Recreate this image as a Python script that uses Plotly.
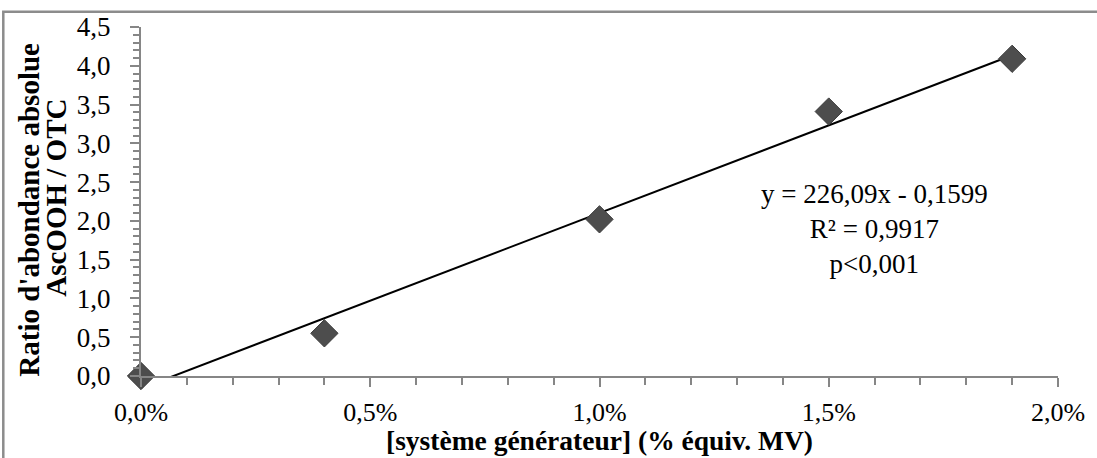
import plotly.graph_objects as go

# Data
conc = [0.0, 0.004, 0.010, 0.015, 0.019]          # fraction (shown as %)
ratio = [0.0, 0.55, 2.02, 3.41, 4.09]
slope = 226.09
intercept = -0.1599
fit_x = [0.0, 0.019]
fit_y = [slope * v + intercept for v in fit_x]
x_ticks = [0.0, 0.005, 0.010, 0.015, 0.020]
y_ticks = [0.0, 0.5, 1.0, 1.5, 2.0, 2.5, 3.0, 3.5, 4.0, 4.5]
eq_text = "y = 226,09x - 0,1599<br>R² = 0,9917<br>p<0,001"
y_title_1 = "<b>Ratio d'abondance absolue</b>"
y_title_2 = "<b>AscOOH / OTC</b>"
x_title = "<b>[système générateur] (% équiv. MV)</b>"

FONT = "Liberation Serif"
AX = "#868686"
L, R, T, B = 141, 37, 22, 82
W, H = 1097, 458
PW, PH = W - L - R, H - T - B

fig = go.Figure()
fig.add_trace(go.Scatter(
    x=fit_x, y=fit_y, mode="lines",
    line=dict(color="black", width=2), showlegend=False, hoverinfo="skip"))
fig.add_trace(go.Scatter(
    x=conc, y=ratio, mode="markers",
    marker=dict(symbol="diamond", size=21, color="#4d4d4d",
                line=dict(color="#3a3a3a", width=1)),
    cliponaxis=False, showlegend=False))

fig.add_annotation(
    x=0.016, y=1.9, xref="x", yref="y", text=eq_text, showarrow=False,
    align="center", font=dict(family=FONT, size=27, color="black"))

# y-axis title (two lines)
fig.add_annotation(x=(29 - L) / PW, y=(H - B - 207) / PH, xref="paper", yref="paper",
                   text=y_title_1, showarrow=False, textangle=-90,
                   xanchor="center", yanchor="middle",
                   font=dict(family=FONT, size=29, color="black"))
fig.add_annotation(x=(55 - L) / PW, y=(H - B - 195) / PH, xref="paper", yref="paper",
                   text=y_title_2, showarrow=False, textangle=-90,
                   xanchor="center", yanchor="middle",
                   font=dict(family=FONT, size=29, color="black"))
# x-axis title
fig.add_annotation(x=0.5, y=-(441 - (H - B)) / PH, xref="paper", yref="paper",
                   text=x_title, showarrow=False,
                   xanchor="center", yanchor="middle",
                   font=dict(family=FONT, size=27.5, color="black"))

fig.add_shape(type="rect", xref="paper", yref="paper",
              x0=(3 - L) / PW, x1=1.2, y0=-0.5, y1=1 + (T - 6.5) / PH,
              line=dict(color="#8c8c8c", width=2.5), layer="below")

fig.update_layout(
    width=W, height=H,
    margin=dict(l=L, r=R, t=T, b=B),
    paper_bgcolor="white", plot_bgcolor="white",
    separators=", ",
    font=dict(family=FONT, size=24, color="black"),
    xaxis=dict(
        range=[0, 0.02], tickvals=x_ticks, tickformat=".1%",
        showgrid=False, zeroline=False, showline=True, linecolor=AX, linewidth=2,
        ticks="outside", ticklen=9, tickwidth=2, tickcolor=AX,
        ticklabelstandoff=3,
        minor=dict(dtick=0.001, ticks="outside", ticklen=7, tickwidth=2, tickcolor=AX, showgrid=False),
        tickfont=dict(family=FONT, size=26),
    ),
    yaxis=dict(
        range=[0, 4.5], tickvals=y_ticks, tickformat=".1f",
        showgrid=False, zeroline=False, showline=True, linecolor=AX, linewidth=2,
        ticks="outside", ticklen=9, tickwidth=2, tickcolor=AX,
        ticklabelstandoff=14,
        minor=dict(dtick=0.1, ticks="outside", ticklen=6, tickwidth=2, tickcolor=AX, showgrid=False),
        tickfont=dict(family=FONT, size=27),
    ),
)

fig.write_html("out.html", config={"displayModeBar": False},
               post_script="document.body.style.margin='0';")
